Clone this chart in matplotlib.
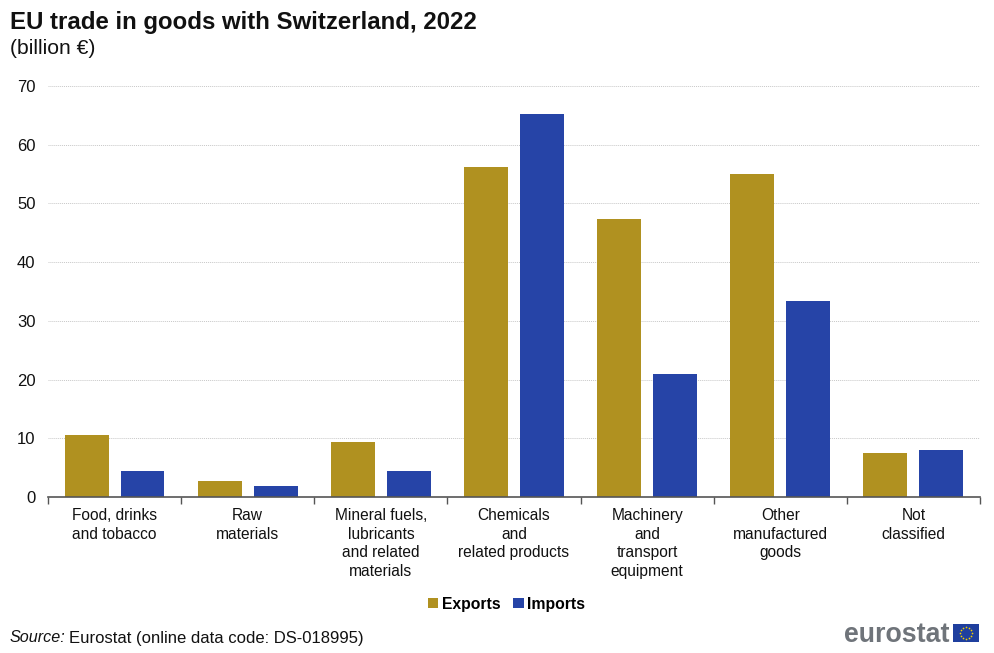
import numpy as np
import matplotlib.pyplot as plt

categories = ["Food, drinks\nand tobacco", "Raw\nmaterials", "Mineral fuels,\nlubricants\nand related\nmaterials",
              "Chemicals\nand\nrelated products", "Machinery\nand\ntransport\nequipment",
              "Other\nmanufactured\ngoods", "Not\nclassified"]
exports = [10.5, 2.7, 9.3, 56.2, 47.3, 55.0, 7.5]
imports = [4.5, 1.8, 4.4, 65.3, 21.0, 33.3, 8.0]
yticks = [0, 10, 20, 30, 40, 50, 60, 70]

W, H = 995, 653
plt.rcParams["font.family"] = ["Liberation Sans", "DejaVu Sans"]

fig = plt.figure(figsize=(W / 100, H / 100), dpi=100)
ax = fig.add_axes([48 / W, 1 - 497 / H, 932 / W, 411 / H])

x = np.arange(len(categories))
ax.bar(x - 0.21, exports, 0.33, color="#b09120", label="Exports")
ax.bar(x + 0.21, imports, 0.33, color="#2644a7", label="Imports")

ax.set_xlim(-0.5, 6.5)
ax.set_ylim(0, 70)
ax.set_yticks(yticks)
ax.grid(axis="y", color="#c8c8c8", linestyle=(0, (1, 1)), linewidth=0.7)
ax.set_axisbelow(True)
for s in ["top", "right", "left"]:
    ax.spines[s].set_visible(False)
ax.spines["bottom"].set_color("#555555")
ax.spines["bottom"].set_linewidth(1.2)
ax.tick_params(axis="y", length=0, labelsize=12, pad=9, labelcolor="#111111")

# ticks sit between the groups, labels at the centres
ax.set_xticks(np.arange(-0.5, 7, 1))
ax.set_xticklabels([])
ax.tick_params(axis="x", length=5, width=1, color="#555555")
ax.set_xticks(x, minor=True)
ax.set_xticklabels(categories, minor=True, fontsize=11.2, color="#111111", linespacing=1.3)
ax.tick_params(axis="x", which="minor", length=0, pad=8)

fig.text(10 / W, 1 - 23 / H, "EU trade in goods with Switzerland, 2022", fontsize=17.3, fontweight="bold",
         va="center", color="#111111")
fig.text(10 / W, 1 - 49 / H, "(billion €)", fontsize=15.2, va="center", color="#111111")

ax.legend(loc="center", bbox_to_anchor=(506.5 / W, 1 - 604 / H), bbox_transform=fig.transFigure, ncol=2, frameon=False,
          prop={"size": 11.3, "weight": "bold"}, handlelength=0.64, handleheight=0.64, handletextpad=0.2,
          columnspacing=0.85)

fig.text(10 / W, 1 - 638 / H, "Source:", fontsize=11.6, style="italic", va="center", color="#111111")
fig.text(69 / W, 1 - 638 / H, "Eurostat (online data code: DS-018995)", fontsize=12, va="center", color="#111111")

# logo
fig.text(950 / W, 1 - 635 / H, "eurostat", fontsize=19.3, fontweight="bold", ha="right", va="center", color="#6f747a")
flag = fig.add_axes([953 / W, 1 - 642 / H, 26 / W, 18 / H])
flag.set_facecolor("#1f3f9e")
flag.set_xticks([])
flag.set_yticks([])
for s in flag.spines.values():
    s.set_visible(False)
angles = np.arange(12) * np.pi / 6
flag.scatter(np.cos(angles) * 0.6, np.sin(angles) * 0.65, s=1.5, color="#f5d000", linewidths=0)
flag.set_xlim(-1.3, 1.3)
flag.set_ylim(-1, 1)

fig.savefig("out.png", dpi=100)
